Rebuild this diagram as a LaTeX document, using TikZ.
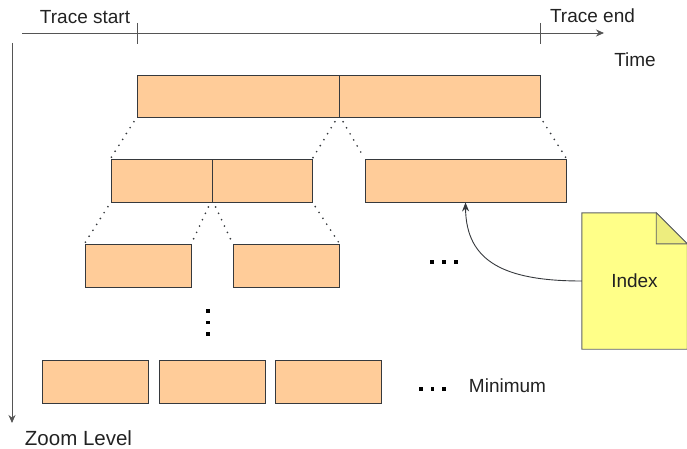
\documentclass[tikz,border=0pt]{standalone}
\usepackage{fontspec}
\setmainfont{Liberation Sans}
\usetikzlibrary{arrows.meta}
\definecolor{boxfill}{HTML}{FFCC99}
\definecolor{boxline}{HTML}{36393D}
\definecolor{docfill}{HTML}{FFFF88}
\definecolor{foldfill}{HTML}{EDED7E}
\definecolor{axisline}{HTML}{555555}
\definecolor{txt}{HTML}{222222}
\tikzset{
  seg/.style={draw=boxline, fill=boxfill, line width=0.9pt, minimum height=43pt, inner sep=0pt, anchor=center},
  zoomline/.style={draw=boxline, line width=1.9pt, dash pattern=on 0pt off 7pt, line cap=round, shorten <=5pt, shorten >=1pt},
  axis/.style={draw=axisline, line width=0.9pt},
  lbl/.style={text=txt, font=\fontsize{19}{22}\selectfont, inner sep=0pt},
  dotmark/.style={fill=black, minimum size=3.4pt, inner sep=0pt, shape=rectangle},
}
\begin{document}
\begin{tikzpicture}[x=1pt, y=-1pt]
\useasboundingbox (0,0) rectangle (687,449);
% axes
\coordinate (ax0) at (22,33);
\coordinate (ax1) at (604,33);
\draw[axis, -{Stealth[length=8pt, width=7pt]}] (ax0) -- (ax1);
\coordinate (ts) at (137,33);
\coordinate (te) at (540,33);
\draw[axis] ([yshift=10pt]ts) -- ([yshift=-11pt]ts);
\draw[axis] ([yshift=10pt]te) -- ([yshift=-11pt]te);
\node[lbl] (tstart) at (85,17) {Trace start};
\node[lbl] (tend) at (592.5,16) {Trace end};
\node[lbl] (time) at (635,60) {Time};
\coordinate (zv0) at (12,43);
\coordinate (zv1) at (12,423);
\draw[axis, -{Stealth[length=8pt, width=7pt]}] (zv0) -- (zv1);
\node[lbl, font=\fontsize{20.5}{24}\selectfont] (zl) at (78.5,438.5) {Zoom Level};
% level 1
\node[seg, minimum width=202pt, minimum height=42pt] (b1a) at (238,96) {};
\node[seg, minimum width=201pt, minimum height=42pt] (b1b) at (439.5,96) {};
% level 2
\node[seg, minimum width=101pt] (b2a) at (161.5,180.5) {};
\node[seg, minimum width=100pt] (b2b) at (262,180.5) {};
\node[seg, minimum width=201pt] (b2c) at (465.5,180.5) {};
% level 3
\node[seg, minimum width=106pt] (b3a) at (138,265.5) {};
\node[seg, minimum width=106pt] (b3b) at (286,265.5) {};
% level 4
\node[seg, minimum width=106pt] (b4a) at (95,381.5) {};
\node[seg, minimum width=106pt] (b4b) at (212,381.5) {};
\node[seg, minimum width=106pt] (b4c) at (328,381.5) {};
% zoom lines
\draw[zoomline] (b1a.south west) -- (b2a.north west);
\draw[zoomline] ([xshift=-2pt]b1a.south east) -- (b2b.north east);
\draw[zoomline] ([xshift=2pt]b1b.south west) -- (b2c.north west);
\draw[zoomline] (b1b.south east) -- (b2c.north east);
\draw[zoomline] (b2a.south west) -- (b3a.north west);
\draw[zoomline] ([xshift=-2pt]b2a.south east) -- (b3a.north east);
\draw[zoomline] ([xshift=2pt]b2b.south west) -- (b3b.north west);
\draw[zoomline] (b2b.south east) -- (b3b.north east);
% ellipses
\node[dotmark] (v1) at (208,311) {};
\node[dotmark] (v2) at (208,322.5) {};
\node[dotmark] (v3) at (208,334) {};
\node[dotmark] (h1) at (432,262) {};
\node[dotmark] (h2) at (444,262) {};
\node[dotmark] (h3) at (456,262) {};
\node[dotmark] (m1) at (421,389) {};
\node[dotmark] (m2) at (432.5,389) {};
\node[dotmark] (m3) at (444,389) {};
\node[lbl] (mini) at (507.5,386) {Minimum};
% index document
\node[lbl, minimum width=105pt, minimum height=136pt] (idx) at (634.5,281) {};
\draw[draw=boxline!80, fill=docfill, line width=0.9pt]
  (idx.north west) -- ([xshift=-31pt]idx.north east) -- ([yshift=-31pt]idx.north east)
  -- (idx.south east) -- (idx.south west) -- cycle;
\draw[draw=boxline!80, fill=foldfill, line width=0.9pt]
  ([xshift=-31pt]idx.north east) -- ([xshift=-31pt,yshift=-31pt]idx.north east) -- ([yshift=-31pt]idx.north east) -- cycle;
\node[lbl] (idxt) at (idx.center) {Index};
\draw[draw=boxline, line width=0.9pt, -{Stealth[length=9pt, width=7pt]}]
  (idx.west) .. controls (505,281) and (466,262) .. (b2c.south);
\end{tikzpicture}
\end{document}
